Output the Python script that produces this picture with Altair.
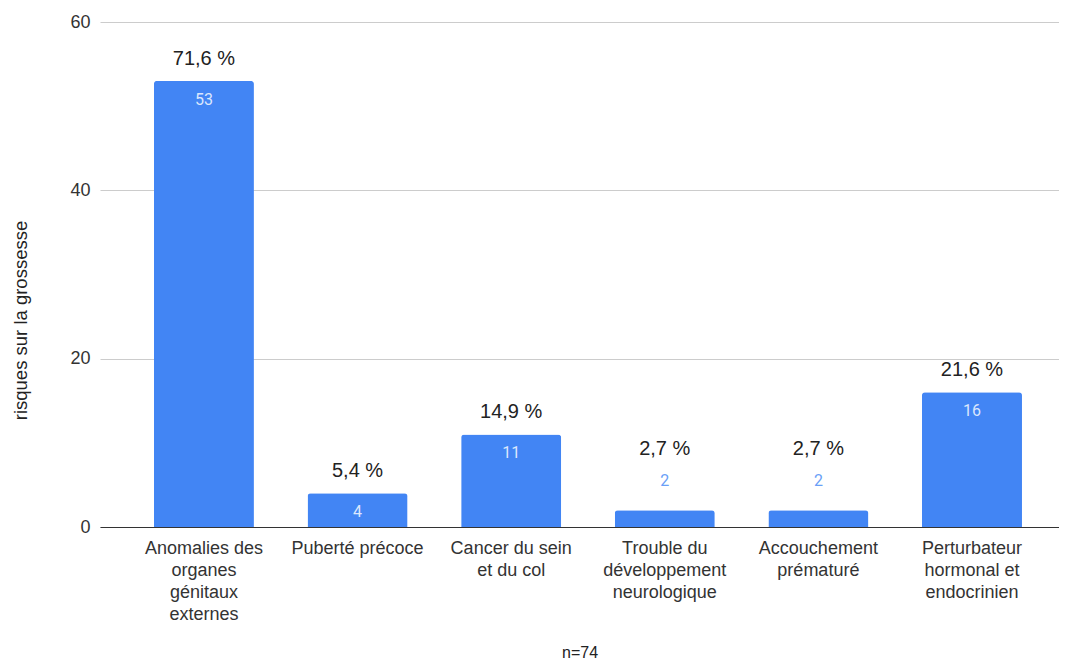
import altair as alt
import pandas as pd

categories = [
    "Anomalies des|organes|génitaux|externes",
    "Puberté précoce",
    "Cancer du sein|et du col",
    "Trouble du|développement|neurologique",
    "Accouchement|prématuré",
    "Perturbateur|hormonal et|endocrinien",
]
counts = [53, 4, 11, 2, 2, 16]
percents = ["71,6 %", "5,4 %", "14,9 %", "2,7 %", "2,7 %", "21,6 %"]
y_ticks = [0, 20, 40, 60]
x_title = "n=74"
y_title = "risques sur la grossesse"

df = pd.DataFrame({"cat": categories, "count": counts, "pct": percents})

FONT = "Liberation Sans"
BLUE = "#4285F4"

x_enc = alt.X(
    "cat:N",
    sort=categories,
    scale=alt.Scale(paddingInner=0.349, paddingOuter=0.296, align=0.593),
    axis=alt.Axis(
        title=x_title,
        labelAngle=0,
        labelExpr="split(datum.label, '|')",
        labelLineHeight=22,
        labelFontSize=18,
        labelFont=FONT,
        labelColor="#333333",
        labelBaseline="top",
        labelPadding=12,
        ticks=False,
        domainColor="#333333",
        domainWidth=1.2,
        titleFont=FONT,
        titleFontSize=16,
        titleFontWeight="normal",
        titleColor="#222222",
        titleY=125,
        titleBaseline="middle",
        labelLimit=300,
    ),
)

y_enc = alt.Y(
    "count:Q",
    scale=alt.Scale(domain=[0, 60], nice=False),
    axis=alt.Axis(
        title=y_title,
        values=y_ticks,
        domain=False,
        ticks=False,
        labelPadding=10,
        labelFontSize=18,
        labelFont=FONT,
        labelColor="#333333",
        gridColor="#cccccc",
        titleFont=FONT,
        titleFontSize=18.5,
        titleFontWeight="normal",
        titleColor="#222222",
        titleX=-80,
        titleY=298,
        titleBaseline="middle",
        titleAlign="center",
        titleAngle=-90,
    ),
)

base = alt.Chart(df).encode(x=x_enc, y=y_enc)

bars = base.mark_bar(color=BLUE, cornerRadiusTopLeft=3, cornerRadiusTopRight=3)

count_in = base.transform_filter("datum.count >= 3").mark_text(
    font="Roboto", fontSize=16, color="#dbe7fd", baseline="middle", dy=19
).encode(text="count:Q")

count_out = base.transform_filter("datum.count < 3").mark_text(
    font="Roboto", fontSize=16, color="#6a9ff7", baseline="middle", dy=-29
).encode(text="count:Q")

pct_big = base.transform_filter("datum.count >= 3").mark_text(
    font=FONT, fontSize=20, color="#222222", baseline="middle", dy=-22
).encode(text="pct:N")

pct_small = base.transform_filter("datum.count < 3").mark_text(
    font=FONT, fontSize=20, color="#222222", baseline="middle", dy=-61
).encode(text="pct:N")

chart = (
    alt.layer(bars, count_in, count_out, pct_big, pct_small)
    .properties(
        width=959,
        height=505,
        autosize=alt.AutoSizeParams(type="none"),
        padding={"left": 92, "top": 14, "right": 0, "bottom": 134},
    )
    .configure_view(stroke=None)
)

chart.save("out.html", embed_options={"renderer": "svg", "actions": False})
